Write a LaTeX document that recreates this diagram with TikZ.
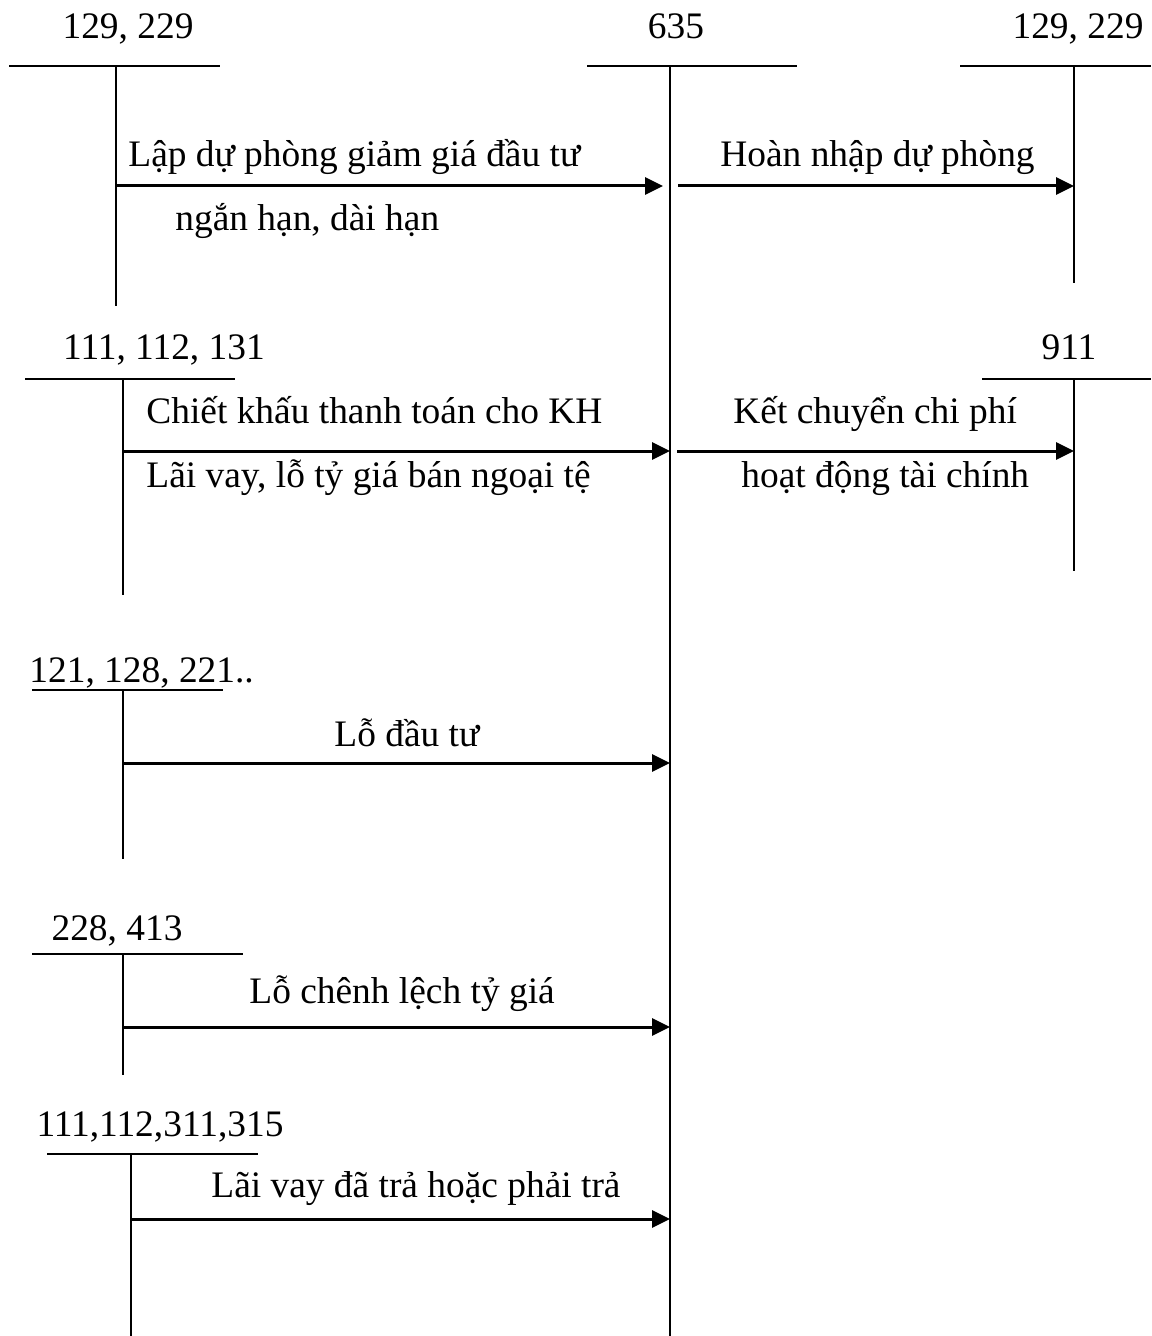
\documentclass[tikz,border=0pt]{standalone}
\usepackage{fontspec}
\setmainfont{Liberation Serif}
\usetikzlibrary{arrows.meta}

\tikzset{
  tacc/.style={line width=1pt},
  post/.style={line width=1.5pt, -{Triangle[length=9pt,width=8.5pt]}},
  acc/.style={anchor=base, inner sep=0pt},
  lbl/.style={anchor=base west, inner sep=0pt}
}

\begin{document}
\begin{tikzpicture}[x=0.5pt, y=-0.5pt, every node/.style={font=\fontsize{18.7}{22}\selectfont}]
\useasboundingbox (0,0) rectangle (1151,1336);

% main account 635
\node[acc] (n635) at (676,39) {635};
\draw[tacc] (587,66) -- (797,66);
\draw[tacc] (670,66) -- (670,1336);

% 129, 229 (left) and 129, 229 (right)
\node[acc] (n129a) at (128,39) {129, 229};
\draw[tacc] (9,66) -- (220,66);
\draw[tacc] (116,66) -- (116,306);
\node[acc] (n129b) at (1078,39) {129, 229};
\draw[tacc] (960,66) -- (1151,66);
\draw[tacc] (1074,66) -- (1074,283);

\coordinate (s1) at (116,186);
\coordinate (e1) at (663,186);
\coordinate (s2) at (678,186);
\coordinate (e2) at (1074,186);
\draw[post] (s1) -- (e1);
\draw[post] (s2) -- (e2);
\node[lbl] (l1a) at (128,167) {Lập dự phòng giảm giá đầu tư};
\node[lbl] (l1b) at (175,231) {ngắn hạn, dài hạn};
\node[lbl] (l2) at (720,167) {Hoàn nhập dự phòng};

% 111, 112, 131 and 911
\node[acc] (n111) at (164,360) {111, 112, 131};
\draw[tacc] (25,379) -- (235,379);
\draw[tacc] (123,379) -- (123,595);
\node[acc] (n911) at (1069,360) {911};
\draw[tacc] (982,379) -- (1151,379);
\draw[tacc] (1074,379) -- (1074,571);

\coordinate (s3) at (123,451);
\coordinate (e3) at (670,451);
\coordinate (s4) at (677,451);
\coordinate (e4) at (1074,451);
\draw[post] (s3) -- (e3);
\draw[post] (s4) -- (e4);
\node[lbl] (l3a) at (146,423) {Chiết khấu thanh toán cho KH};
\node[lbl] (l3b) at (146,487) {Lãi vay, lỗ tỷ giá bán ngoại tệ};
\node[lbl] (l4a) at (733,423) {Kết chuyển chi phí};
\node[lbl] (l4b) at (741,487) {hoạt động tài chính};

% 121, 128, 221..
\node[lbl] (n121) at (29,682) {121, 128, 221..};
\draw[tacc] (32,690) -- (223,690);
\draw[tacc] (123,690) -- (123,859);
\coordinate (s5) at (123,763);
\coordinate (e5) at (670,763);
\draw[post] (s5) -- (e5);
\node[lbl] (l5) at (334,746) {Lỗ đầu tư};

% 228, 413
\node[acc] (n228) at (117,940) {228, 413};
\draw[tacc] (32,954) -- (243,954);
\draw[tacc] (123,954) -- (123,1075);
\coordinate (s6) at (123,1027);
\coordinate (e6) at (670,1027);
\draw[post] (s6) -- (e6);
\node[lbl] (l6) at (249,1003) {Lỗ chênh lệch tỷ giá};

% 111,112,311,315
\node[acc] (n311) at (160,1136) {111,112,311,315};
\draw[tacc] (47,1154) -- (258,1154);
\draw[tacc] (131,1154) -- (131,1336);
\coordinate (s7) at (131,1219);
\coordinate (e7) at (670,1219);
\draw[post] (s7) -- (e7);
\node[lbl] (l7) at (211,1197) {Lãi vay đã trả hoặc phải trả};
\end{tikzpicture}
\end{document}
